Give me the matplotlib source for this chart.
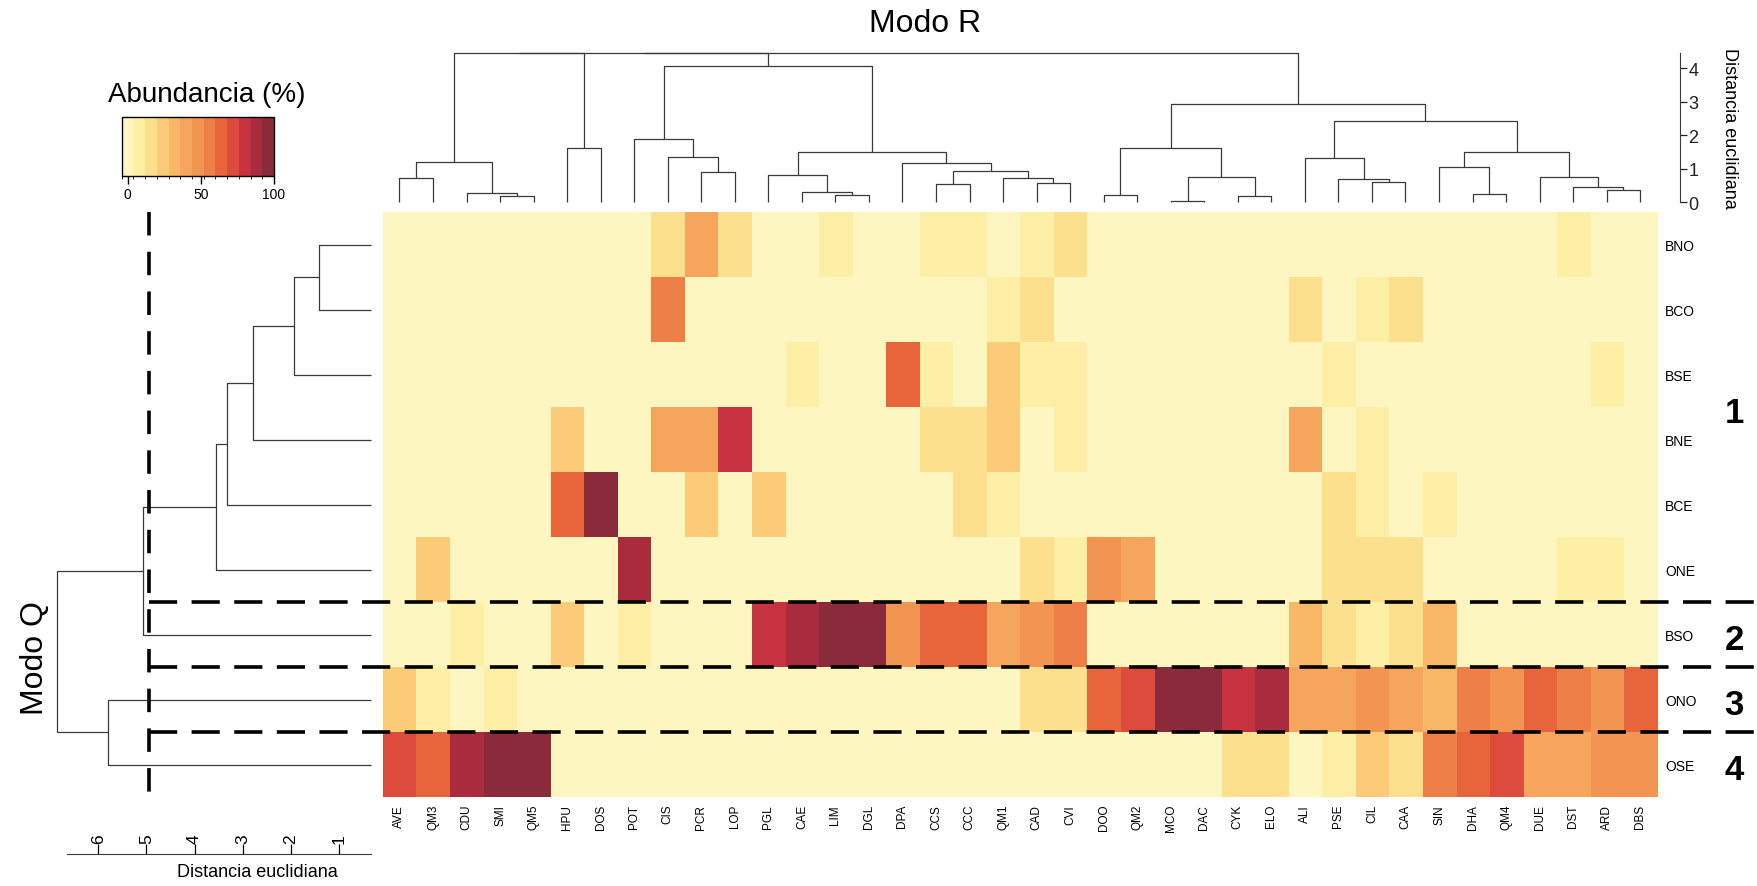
import numpy as np
import matplotlib
matplotlib.use('Agg')
import matplotlib.pyplot as plt
from matplotlib.colors import ListedColormap, BoundaryNorm
import matplotlib.colorbar as mcolorbar

plt.rcParams['font.family'] = ['Liberation Sans', 'DejaVu Sans']

# ---- data ----
rows = ['BNO', 'BCO', 'BSE', 'BNE', 'BCE', 'ONE', 'BSO', 'ONO', 'OSE']
cols = ['AVE', 'QM3', 'CDU', 'SMI', 'QM5', 'HPU', 'DOS', 'POT', 'CIS', 'PCR',
        'LOP', 'PGL', 'CAE', 'LIM', 'DGL', 'DPA', 'CCS', 'CCC', 'QM1', 'CAD',
        'CVI', 'DOO', 'QM2', 'MCO', 'DAC', 'CYK', 'ELO', 'ALI', 'PSE', 'CIL',
        'CAA', 'SIN', 'DHA', 'QM4', 'DUE', 'DST', 'ARD', 'DBS']

# abundance (%) per station, in column order
bno = [0, 0, 0, 0, 0, 0, 0, 0, 15, 36, 15, 0, 0, 7, 0, 0, 6, 6, 3, 8,
       16, 0, 0, 0, 0, 0, 0, 0, 0, 0, 0, 0, 0, 0, 0, 7, 0, 0]
bco = [0, 0, 0, 0, 0, 0, 0, 0, 55, 0, 0, 0, 0, 0, 0, 0, 0, 2, 8, 15,
       0, 0, 0, 0, 0, 0, 0, 14, 0, 7, 14, 0, 0, 0, 0, 0, 0, 0]
bse = [0, 0, 0, 0, 0, 0, 0, 0, 0, 0, 0, 0, 7, 0, 0, 62, 6, 2, 26, 6,
       7, 0, 0, 0, 0, 0, 0, 0, 6, 0, 0, 0, 0, 0, 0, 0, 7, 0]
bne = [0, 0, 0, 0, 0, 26, 0, 0, 40, 40, 80, 0, 0, 0, 0, 0, 16, 16, 24, 2,
       7, 0, 0, 0, 0, 0, 0, 38, 2, 6, 0, 0, 0, 0, 0, 0, 0, 0]
bce = [0, 0, 0, 0, 0, 62, 96, 0, 0, 26, 0, 26, 0, 0, 0, 0, 0, 17, 7, 2,
       0, 0, 0, 0, 0, 0, 0, 0, 14, 7, 3, 6, 0, 0, 0, 0, 0, 0]
one = [0, 26, 0, 0, 0, 0, 0, 88, 0, 0, 0, 0, 0, 0, 0, 0, 0, 0, 0, 15,
       7, 46, 38, 0, 0, 0, 0, 0, 14, 14, 14, 0, 0, 0, 0, 7, 7, 0]
bso = [0, 0, 7, 0, 0, 26, 0, 7, 0, 0, 0, 80, 88, 96, 96, 46, 64, 64, 38, 46,
       54, 0, 0, 0, 0, 0, 0, 28, 18, 7, 18, 28, 0, 0, 0, 0, 0, 0]
ono = [26, 6, 3, 6, 0, 0, 0, 0, 0, 0, 0, 0, 0, 0, 0, 0, 0, 0, 0, 15,
       15, 64, 72, 96, 96, 80, 88, 36, 36, 46, 38, 30, 54, 46, 66, 54, 46, 62]
ose = [72, 64, 88, 96, 96, 0, 0, 0, 0, 0, 0, 0, 0, 0, 0, 0, 0, 0, 0, 0,
       0, 0, 0, 0, 0, 16, 16, 3, 7, 26, 16, 54, 62, 70, 36, 36, 44, 44]

# Modo R tree (columns): (left, right, height)
tree_a = (('AVE', 'QM3', 0.72), ('CDU', ('SMI', 'QM5', 0.19), 0.29), 1.19)
tree_hd = ('HPU', 'DOS', 1.63)
tree_b1 = ('POT', ('CIS', ('PCR', 'LOP', 0.91), 1.34), 1.88)
tree_c = ('PGL', ('CAE', ('LIM', 'DGL', 0.22), 0.30), 0.81)
tree_d = ('DPA', (('CCS', 'CCC', 0.56), ('QM1', ('CAD', 'CVI', 0.58), 0.74), 0.92), 1.17)
tree_b = (tree_b1, (tree_c, tree_d, 1.50), 4.08)
tree_e = (('DOO', 'QM2', 0.23), (('MCO', 'DAC', 0.03), ('CYK', 'ELO', 0.19), 0.76), 1.63)
tree_g = ('ALI', ('PSE', ('CIL', 'CAA', 0.61), 0.69), 1.31)
tree_h = (('SIN', ('DHA', 'QM4', 0.25), 1.04),
          ('DUE', ('DST', ('ARD', 'DBS', 0.38), 0.47), 0.76), 1.50)
tree_r = (tree_e, (tree_g, tree_h, 2.43), 2.92)
tree_cols = (((tree_a, tree_hd, 4.46), tree_b, 4.46), tree_r, 4.46)

# Modo Q tree (rows)
tree_rows = ((((((('BNO', 'BCO', 1.41), 'BSE', 1.94), 'BNE', 2.78), 'BCE', 3.32),
               'ONE', 3.55), 'BSO', 5.08), ('ONO', 'OSE', 5.80), 6.86)

cut_height = 4.94
group_names = ['1', '2', '3', '4']
group_rows = [['BNO', 'BCO', 'BSE', 'BNE', 'BCE', 'ONE'], ['BSO'], ['ONO'], ['OSE']]

bar_ticks = [0, 50, 100]
bar_bounds = np.arange(-4, 101, 8)
bar_colors = ['#FDF6C0', '#FDEFA6', '#FDE08E', '#FBCB78', '#F8B867', '#F6A65C',
              '#F29452', '#EE7F46', '#E8643B', '#DC4B3C', '#C6323F', '#A82B3E',
              '#8B2A3B']

abundance = np.array([bno, bco, bse, bne, bce, one, bso, ono, ose], dtype=float)

# ---- figure ----
W, H = 1758, 887
fig = plt.figure(figsize=(W / 100, H / 100), dpi=100)


def px_axes(x0, y0, x1, y1):
    return fig.add_axes([x0 / W, 1 - y1 / H, (x1 - x0) / W, (y1 - y0) / H])


line_col = '#3a3a3a'


def draw_tree(ax, node, order, base, sideways):
    if isinstance(node, str):
        return order.index(node), base
    left, right, h = node
    pl, hl = draw_tree(ax, left, order, base, sideways)
    pr, hr = draw_tree(ax, right, order, base, sideways)
    pos = [pl, pl, pr, pr]
    hts = [hl, h, h, hr]
    if sideways:
        ax.plot(hts, pos, color=line_col, lw=0.9, solid_capstyle='butt')
    else:
        ax.plot(pos, hts, color=line_col, lw=0.9, solid_capstyle='butt')
    return (pl + pr) / 2, h


hx0, hx1, hy0, hy1 = 382.7, 1657, 213, 798

# left dendrogram (Modo Q)
ax_q = px_axes(50, hy0, hx0, hy1)
draw_tree(ax_q, tree_rows, rows, 0.33, True)
ax_q.set_xlim(7.0, 0.095)
ax_q.set_ylim(len(rows) - 0.5, -0.5)
ax_q.autoscale(False)
ax_q.axis('off')

# heatmap
cmap = ListedColormap(bar_colors)
norm = BoundaryNorm(bar_bounds, cmap.N)
ax_h = px_axes(hx0, hy0, hx1, hy1)
ax_h.imshow(abundance, cmap=cmap, norm=norm, aspect='auto', interpolation='nearest')
ax_h.set_xlim(-0.5, len(cols) - 0.5)
ax_h.set_ylim(len(rows) - 0.5, -0.5)
ax_h.autoscale(False)
for s in ax_h.spines.values():
    s.set_visible(False)
ax_h.set_xticks(range(len(cols)))
ax_h.set_xticklabels(cols, rotation=90, fontsize=8.5)
ax_h.yaxis.tick_right()
ax_h.set_yticks(range(len(rows)))
ax_h.set_yticklabels(rows, fontsize=10)
ax_h.tick_params(axis='x', length=0, pad=5)
ax_h.tick_params(axis='y', length=0, pad=6)

# group numbers
for name, members in zip(group_names, group_rows):
    yc = np.mean([rows.index(m) for m in members])
    ax_h.text(len(cols) + 1.8, yc + 0.08, name, fontsize=25, fontweight='bold',
              ha='center', va='center', clip_on=False)

# cut lines
ax_q.plot([cut_height, cut_height], [-0.5, len(rows) - 0.55], color='black', lw=2.6,
          linestyle=(0, (6.5, 4.5)), zorder=6, clip_on=False)
cut_disp = ax_q.transData.transform((cut_height, 0))
cut_x = ax_h.transData.inverted().transform(cut_disp)[0]
for k in range(len(group_rows) - 1):
    yb = sum(len(g) for g in group_rows[:k + 1]) - 0.5
    ax_h.plot([cut_x, len(cols) + 2.6], [yb, yb], color='black', lw=2.6,
              linestyle=(0, (7.8, 4.0)), zorder=6, clip_on=False)

# top dendrogram (Modo R)
ax_r = px_axes(hx0, 40, hx1, hy0)
draw_tree(ax_r, tree_cols, cols, 0.0, False)
ax_r.set_xlim(-0.5, len(cols) - 0.5)
ax_r.set_ylim(-0.29, 4.875)
ax_r.patch.set_visible(False)
for side in ['top', 'left', 'bottom']:
    ax_r.spines[side].set_visible(False)
ax_r.spines['right'].set_position(('outward', 16.5))
ax_r.spines['right'].set_bounds(0, 4.46)
ax_r.spines['right'].set_color(line_col)
ax_r.set_xticks([])
ax_r.yaxis.tick_right()
ax_r.set_yticks([0, 1, 2, 3, 4])
ax_r.tick_params(axis='y', length=5, width=0.9, labelsize=13, pad=1, colors='#222222')
ax_r.text(1.057, 0.49, 'Distancia euclidiana', transform=ax_r.transAxes,
          rotation=270, ha='center', va='center', fontsize=13)

# distance scale under the left dendrogram
ax_s = px_axes(50, 855, hx0, 880)
ax_s.set_xlim(7.0, 0.095)
ax_s.patch.set_visible(False)
for side in ['left', 'right', 'bottom']:
    ax_s.spines[side].set_visible(False)
ax_s.spines['top'].set_bounds(0.33, 6.65)
ax_s.spines['top'].set_color(line_col)
ax_s.xaxis.tick_top()
ax_s.set_xticks([1, 2, 3, 4, 5, 6])
ax_s.set_xticklabels(['1', '2', '3', '4', '5', '6'], rotation=90)
ax_s.tick_params(axis='x', length=7, width=0.9, labelsize=12.5, pad=1)
ax_s.set_yticks([])
fig.text(257 / W, 1 - 873 / H, 'Distancia euclidiana', ha='center', va='center',
         fontsize=13)

# colour key
cax = px_axes(121.7, 117.7, 274, 177.3)
cb = mcolorbar.ColorbarBase(cax, cmap=cmap, norm=norm, orientation='horizontal',
                            ticks=bar_ticks)
cb.outline.set_linewidth(1.0)
cax.tick_params(length=6, width=1.0, labelsize=10, pad=2)
fig.text(207 / W, 1 - 95 / H, 'Abundancia (%)', ha='center', va='center', fontsize=20)

fig.text(925 / W, 1 - 24 / H, 'Modo R', ha='center', va='center', fontsize=23)
fig.text(35 / W, 1 - 658 / H, 'Modo Q', ha='center', va='center', fontsize=23,
         rotation=90)

fig.savefig('out.png', dpi=100)
